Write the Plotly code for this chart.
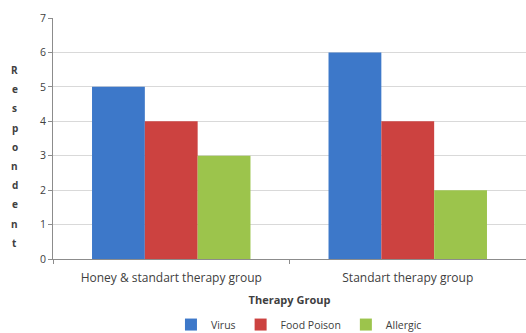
import plotly.graph_objects as go

groups = ["Honey & standart therapy group", "Standart therapy group"]
series = ["Virus", "Food Poison", "Allergic"]
values = {
    "Virus": [5, 6],
    "Food Poison": [4, 4],
    "Allergic": [3, 2],
}
colors = {"Virus": "#3D78C9", "Food Poison": "#CC4240", "Allergic": "#9CC44C"}
y_title = "Respondent"

FONT = "Open Sans, Lato, sans-serif"
TXT = "#404040"

fig = go.Figure()
for s in series:
    fig.add_trace(go.Bar(name=s, x=groups, y=values[s], marker=dict(color=colors[s], line=dict(width=0))))

# vertical, letter-by-letter axis title
top, step = 70, 19.2
for i, ch in enumerate(y_title):
    ypix = top + i * step
    fig.add_annotation(
        text=f"<b>{ch}</b>", xref="paper", yref="paper",
        x=-0.081, y=(259 - ypix) / 241, showarrow=False,
        font=dict(family=FONT, size=10, color=TXT),
        xanchor="center", yanchor="middle",
    )

fig.update_layout(
    width=526, height=333,
    margin=dict(l=53, r=0, t=18, b=74, autoexpand=False),
    paper_bgcolor="white", plot_bgcolor="white",
    barmode="group", bargap=0.33, bargroupgap=0,
    font=dict(family=FONT, size=10, color=TXT),
    showlegend=True,
    legend=dict(orientation="h", x=0.52, xanchor="center", y=-0.272, yanchor="middle",
                font=dict(family=FONT, size=10.5, color=TXT), itemwidth=30,
                traceorder="normal"),
    xaxis=dict(
        automargin=False,
        showline=True, linecolor="#8C8C8C", linewidth=1,
        ticks="outside", tickson="boundaries", ticklen=4, tickcolor="#8C8C8C",
        ticklabelstandoff=8,
        tickfont=dict(family=FONT, size=12, color=TXT),
        title=dict(text="<b>Therapy Group</b>", font=dict(family=FONT, size=11, color=TXT), standoff=10),
    ),
    yaxis=dict(
        automargin=False,
        range=[0, 7], dtick=1, showgrid=True, gridcolor="#D9D9D9", gridwidth=1,
        showline=True, linecolor="#8C8C8C", linewidth=1,
        ticks="outside", ticklen=4, tickcolor="#8C8C8C",
        tickfont=dict(family=FONT, size=10.5, color=TXT),
        zeroline=False,
    ),
)

fig.write_html("out.html")
